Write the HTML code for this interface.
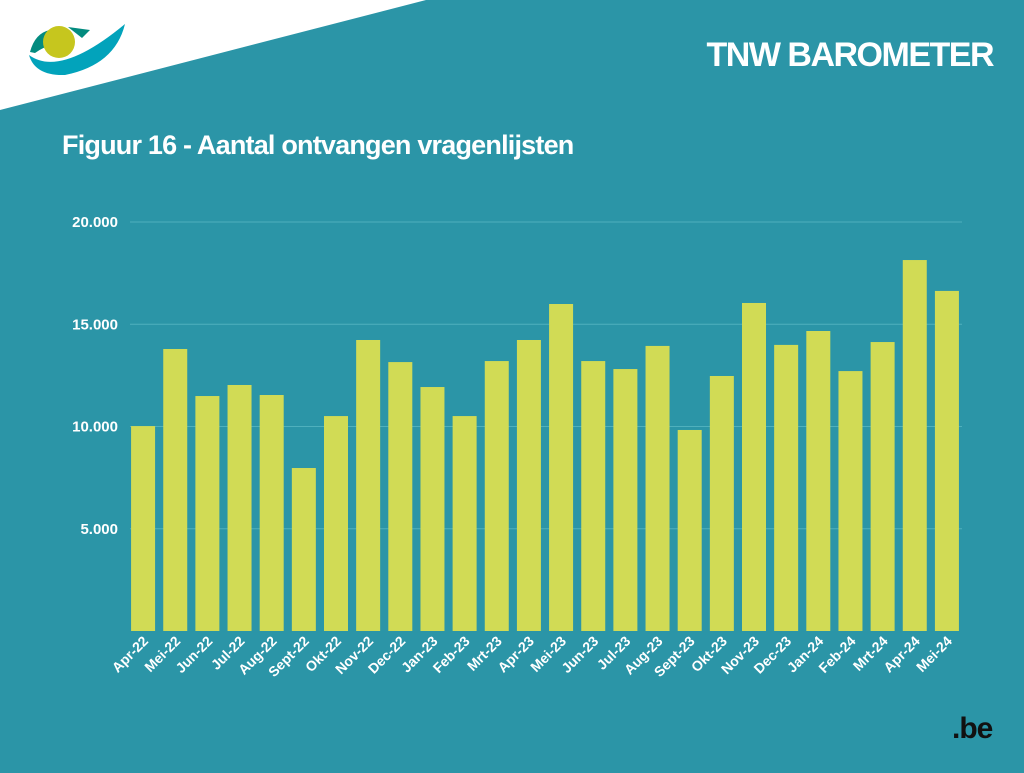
<!DOCTYPE html>
<html><head><meta charset="utf-8"><style>
body{margin:0;width:1024px;height:768px;overflow:hidden;background:#2b95a7;font-family:"Liberation Sans",sans-serif}
</style></head><body>
<svg id="chart" width="1024" height="768" xmlns="http://www.w3.org/2000/svg">
<rect width="1024" height="768" fill="#2b95a7"/>
<polygon points="0,0 426,0 0,110" fill="#ffffff"/>
<g>
<path d="M30,52 Q35,33 50,30 L55,44 Q43,47 35,53 Z" fill="#038b7f"/>
<path d="M68,27 L90,30 L82,38 Z" fill="#038b7f"/>
<path d="M29,55 Q60,78 125,24 Q115,65 65,75 Q35,76 29,55 Z" fill="#02a3bb"/>
<circle cx="59" cy="42" r="16" fill="#c6c61e"/>
</g>
<text x="993" y="66" text-anchor="end" font-size="34" font-weight="bold" fill="#fff" letter-spacing="-1.5">TNW BAROMETER</text>
<text x="62" y="154" font-size="27" font-weight="bold" fill="#fff" letter-spacing="-0.8">Figuur 16 - Aantal ontvangen vragenlijsten</text>
<g id="grid"></g><g id="bars"></g><g id="xl"></g>
<g>
<text x="952" y="738" font-size="30" font-weight="bold" fill="#111" letter-spacing="-1">.be</text>
</g>
</svg>
<script>
const categories=["Apr-22","Mei-22","Jun-22","Jul-22","Aug-22","Sept-22","Okt-22","Nov-22","Dec-22","Jan-23","Feb-23","Mrt-23","Apr-23","Mei-23","Jun-23","Jul-23","Aug-23","Sept-23","Okt-23","Nov-23","Dec-23","Jan-24","Feb-24","Mrt-24","Apr-24","Mei-24"];
const values=[10020,13790,11490,12030,11540,7970,10510,14230,13150,11930,10510,13200,14230,15990,13200,12810,13940,9830,12470,16040,13990,14670,12710,14130,18140,16630];
const yTicks=[5000,10000,15000,20000];
const yTickLabels=["5.000","10.000","15.000","20.000"];
const NS="http://www.w3.org/2000/svg";
const y0=631,yTop=222,x0=127,x1=963;
const y=v=>y0-(v/20000)*(y0-yTop);
const step=(x1-x0)/categories.length,bw=24;
const xc=i=>x0+step*(i+0.5);
function mk(t,a,p){const e=document.createElementNS(NS,t);for(const k in a)e.setAttribute(k,a[k]);p.appendChild(e);return e;}
const g=document.getElementById('grid');
yTicks.forEach((v,i)=>{
 const l=mk('line',{x1:130,x2:962,y1:y(v),y2:y(v),stroke:'#4fb0bd','stroke-width':1},g);
 
 
 const t=mk('text',{x:118,y:y(v)+5,'text-anchor':'end','font-size':15,'font-weight':'bold',fill:'#fff'},g);
 t.textContent=yTickLabels[i];
 
 
});
const b=document.getElementById('bars'),xl=document.getElementById('xl');
values.forEach((v,i)=>{
 const r=mk('rect',{x:xc(i)-bw/2,y:y(v),width:bw,height:y0-y(v),fill:'#d1db55'},b);
 
 
 const cx=xc(i)+6,cy=642;
 const t=mk('text',{x:cx,y:cy,'text-anchor':'end','font-size':14,'font-weight':'bold',fill:'#fff',transform:`rotate(-45 ${cx} ${cy})`},xl);
 t.textContent=categories[i];
 
 
});
</script>
</body></html>
